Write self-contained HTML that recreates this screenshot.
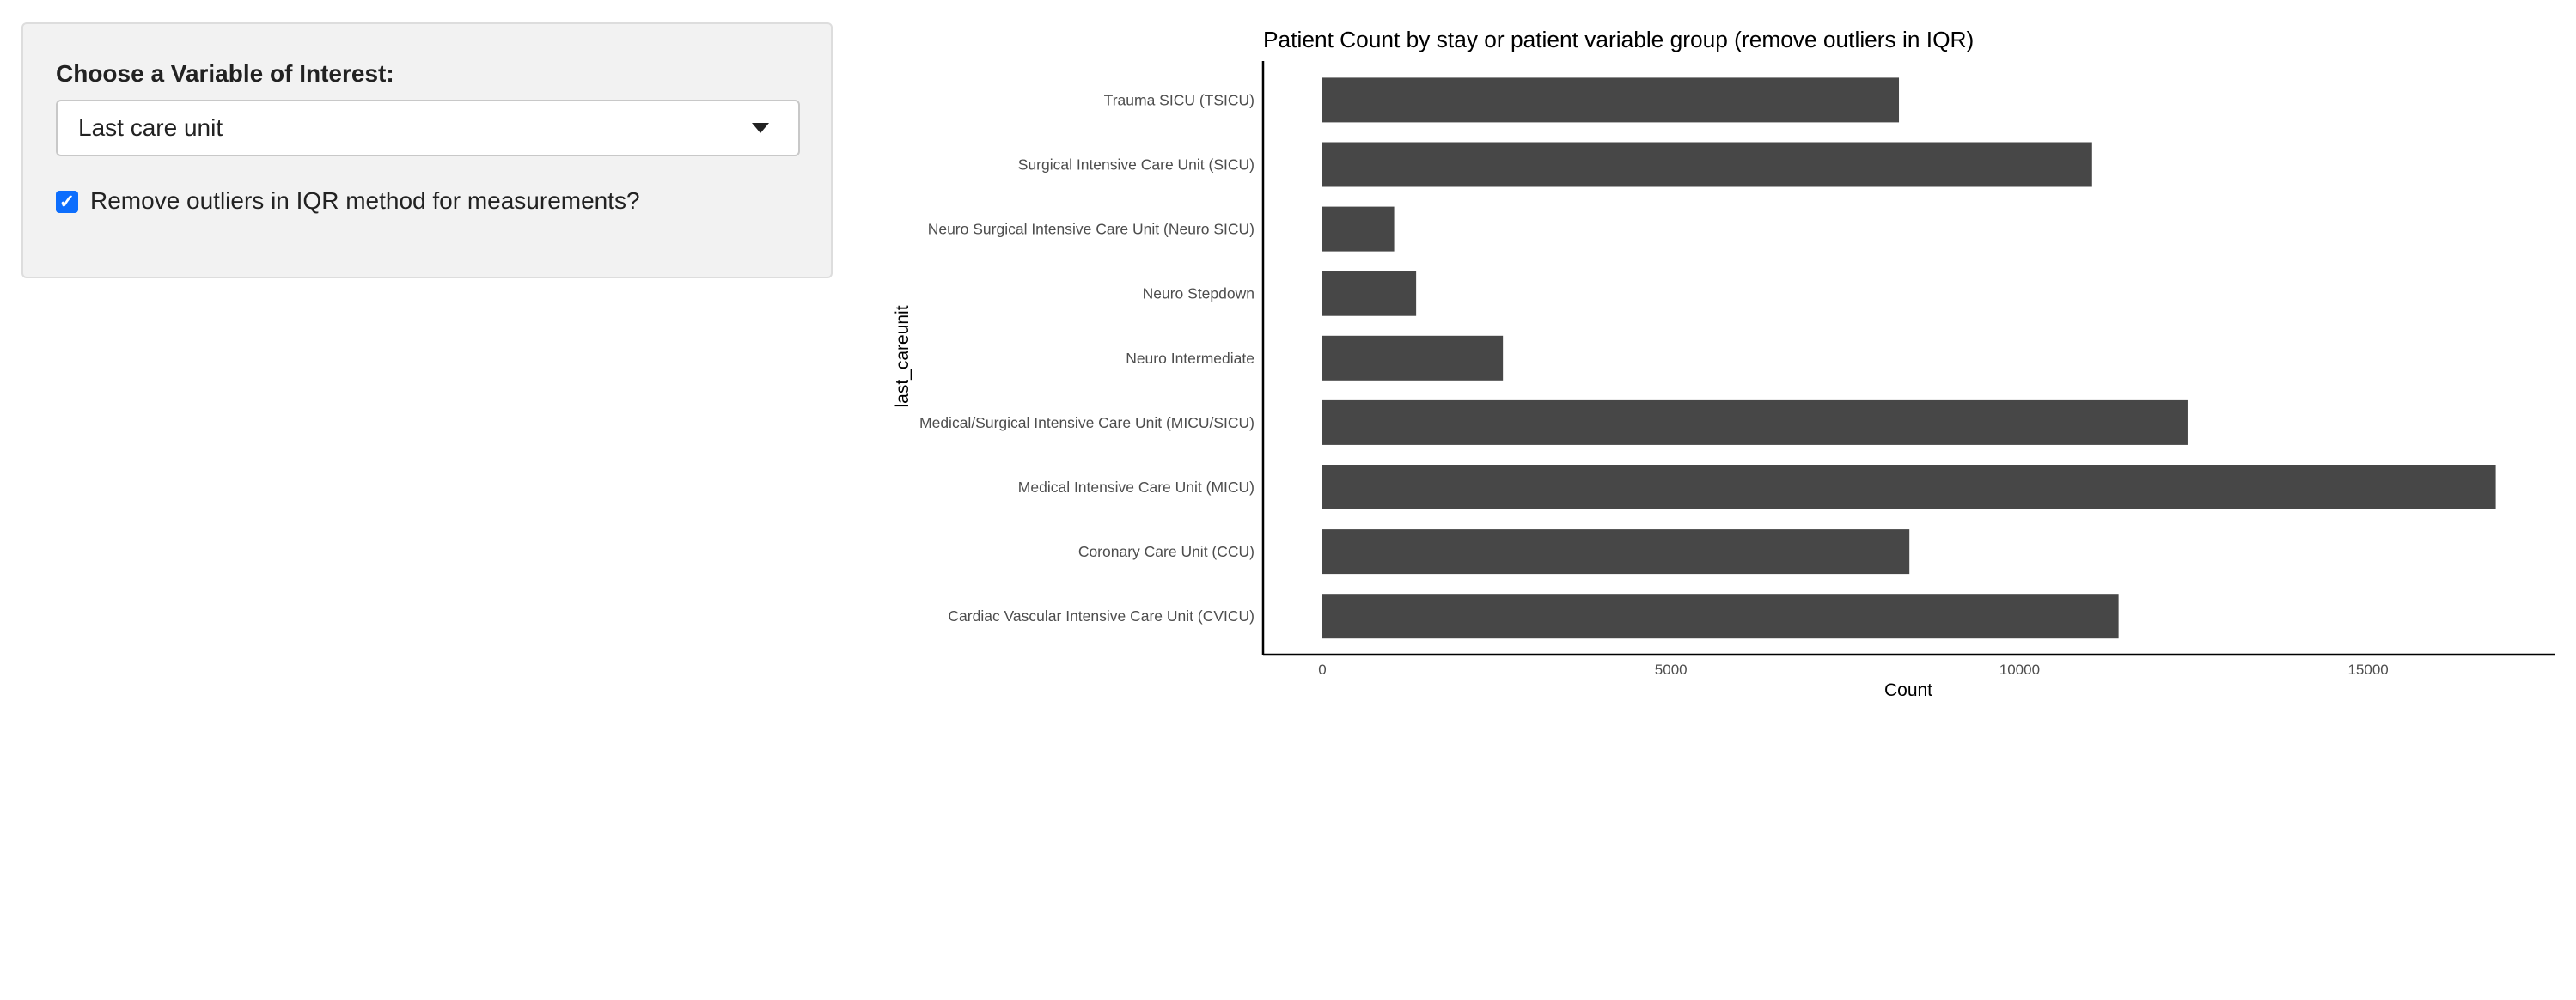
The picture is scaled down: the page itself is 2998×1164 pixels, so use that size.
<!DOCTYPE html>
<html><head><meta charset="utf-8"><style>
body{margin:0;width:2998px;height:1164px;background:#fff;position:relative;font-family:"Liberation Sans",sans-serif;overflow:hidden}
#panel{position:absolute;left:25px;top:26px;width:944px;height:298px;background:#f2f2f2;border:2px solid #ddd;border-radius:6px;box-sizing:border-box}
</style></head><body>
<div id="panel">
<div style="position:absolute;left:38px;top:42px;font-size:28px;font-weight:bold;color:#222">Choose a Variable of Interest:</div>
<div style="position:absolute;left:38px;top:88px;width:866px;height:66px;background:#fff;border:2px solid #c8c8c8;border-radius:6px;box-sizing:border-box">
<span style="position:absolute;left:24px;top:15px;font-size:28px;color:#222">Last care unit</span>
<span style="position:absolute;left:808px;top:25px;width:0;height:0;border-left:10px solid transparent;border-right:10px solid transparent;border-top:12px solid #222"></span>
</div>
<div style="position:absolute;left:38px;top:194px;width:26px;height:26px;background:#0d6efd;border-radius:4px;color:#fff;font-size:22px;line-height:26px;text-align:center;font-weight:bold">✓</div>
<div style="position:absolute;left:78px;top:190px;font-size:28px;color:#222">Remove outliers in IQR method for measurements?</div>
</div>
<svg id="chart" width="2998" height="1164" style="position:absolute;left:0;top:0" xmlns="http://www.w3.org/2000/svg">
<text x="1470" y="55" font-size="26.3" fill="#000">Patient Count by stay or patient variable group (remove outliers in IQR)</text>
<text transform="translate(1057,415) rotate(-90)" text-anchor="middle" font-size="21">last_careunit</text>
<text x="2221" y="810" text-anchor="middle" font-size="21">Count</text>
<g id="bars"></g>
<line x1="1470" y1="71" x2="1470" y2="762" stroke="#000" stroke-width="2.5"/>
<line x1="1470" y1="762" x2="2973" y2="762" stroke="#000" stroke-width="2.5"/>
</svg>
<script>
const categories=["Trauma SICU (TSICU)","Surgical Intensive Care Unit (SICU)","Neuro Surgical Intensive Care Unit (Neuro SICU)","Neuro Stepdown","Neuro Intermediate","Medical/Surgical Intensive Care Unit (MICU/SICU)","Medical Intensive Care Unit (MICU)","Coronary Care Unit (CCU)","Cardiac Vascular Intensive Care Unit (CVICU)"];
const counts=[8270,11040,1030,1345,2590,12410,16830,8420,11420];
const xTicks=[0,5000,10000,15000];
const NS="http://www.w3.org/2000/svg";
const g=document.getElementById('bars');
const xs=v=>1539+v*(405.7/5000);
const ys=i=>116.4+i*75.1;
const bh=52;
categories.forEach((c,i)=>{
  const r=document.createElementNS(NS,'rect');
  r.setAttribute('x',xs(0));r.setAttribute('y',ys(i)-bh/2);
  r.setAttribute('width',xs(counts[i])-xs(0));r.setAttribute('height',bh);r.setAttribute('fill','#474747');
  
  
  g.appendChild(r);
  const t=document.createElementNS(NS,'text');
  t.setAttribute('x',1460);t.setAttribute('y',ys(i)+6);t.setAttribute('text-anchor','end');
  t.setAttribute('font-size','17.5');t.setAttribute('fill','#4d4d4d');t.textContent=c;
  
  
  g.appendChild(t);
});
xTicks.forEach(v=>{
  const t=document.createElementNS(NS,'text');
  t.setAttribute('x',xs(v));t.setAttribute('y',785);t.setAttribute('text-anchor','middle');
  t.setAttribute('font-size','17');t.setAttribute('fill','#4d4d4d');t.textContent=v;
  
  
  g.appendChild(t);
});
</script>
</body></html>
